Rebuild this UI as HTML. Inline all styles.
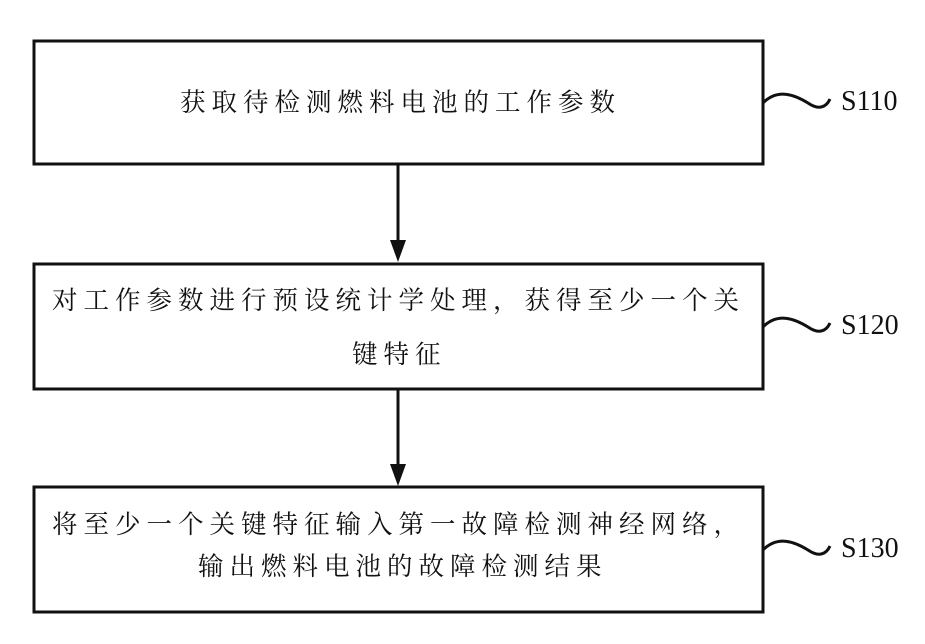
<!DOCTYPE html>
<html><head><meta charset="utf-8"><style>
body{margin:0;background:#fff;width:925px;height:644px;overflow:hidden;position:relative}
.t{position:absolute;font-family:"Liberation Serif","Noto Serif CJK SC",serif;font-size:25.5px;color:#111;white-space:nowrap;letter-spacing:6px;line-height:30px}
.s{position:absolute;font-family:"Liberation Serif",serif;font-size:28px;color:#111}
</style></head><body>
<svg width="925" height="644" style="position:absolute;left:0;top:0">
<g fill="none" stroke="#111" stroke-width="3">
<rect x="34" y="41" width="729" height="123"/>
<rect x="34" y="264" width="729" height="125"/>
<rect x="34" y="487" width="729" height="125"/>
<path d="M763 103 C778 88,795 95,808 103 C818 110,826 108,830 99"/>
<path d="M763 327 C778 312,795 319,808 327 C818 334,826 332,830 323"/>
<path d="M763 550 C778 535,795 542,808 550 C818 557,826 555,830 546"/>
</g>
<g stroke="#111" stroke-width="3"><line x1="398" y1="164" x2="398" y2="244"/><line x1="398" y1="389" x2="398" y2="467"/></g>
<g fill="#111"><polygon points="390,240 406,240 398,262"/><polygon points="390,464 406,464 398,486"/></g>
</svg>
<div class="t" style="left:180px;top:88px">获取待检测燃料电池的工作参数</div>
<div class="t" style="left:52px;top:286px">对工作参数进行预设统计学处理，获得至少一个关</div>
<div class="t" style="left:352px;top:340px">键特征</div>
<div class="t" style="left:52px;top:510px">将至少一个关键特征输入第一故障检测神经网络，</div>
<div class="t" style="left:198px;top:552px">输出燃料电池的故障检测结果</div>
<div class="s" style="left:841px;top:86px">S110</div>
<div class="s" style="left:841px;top:310px">S120</div>
<div class="s" style="left:841px;top:533px">S130</div>
</body></html>
